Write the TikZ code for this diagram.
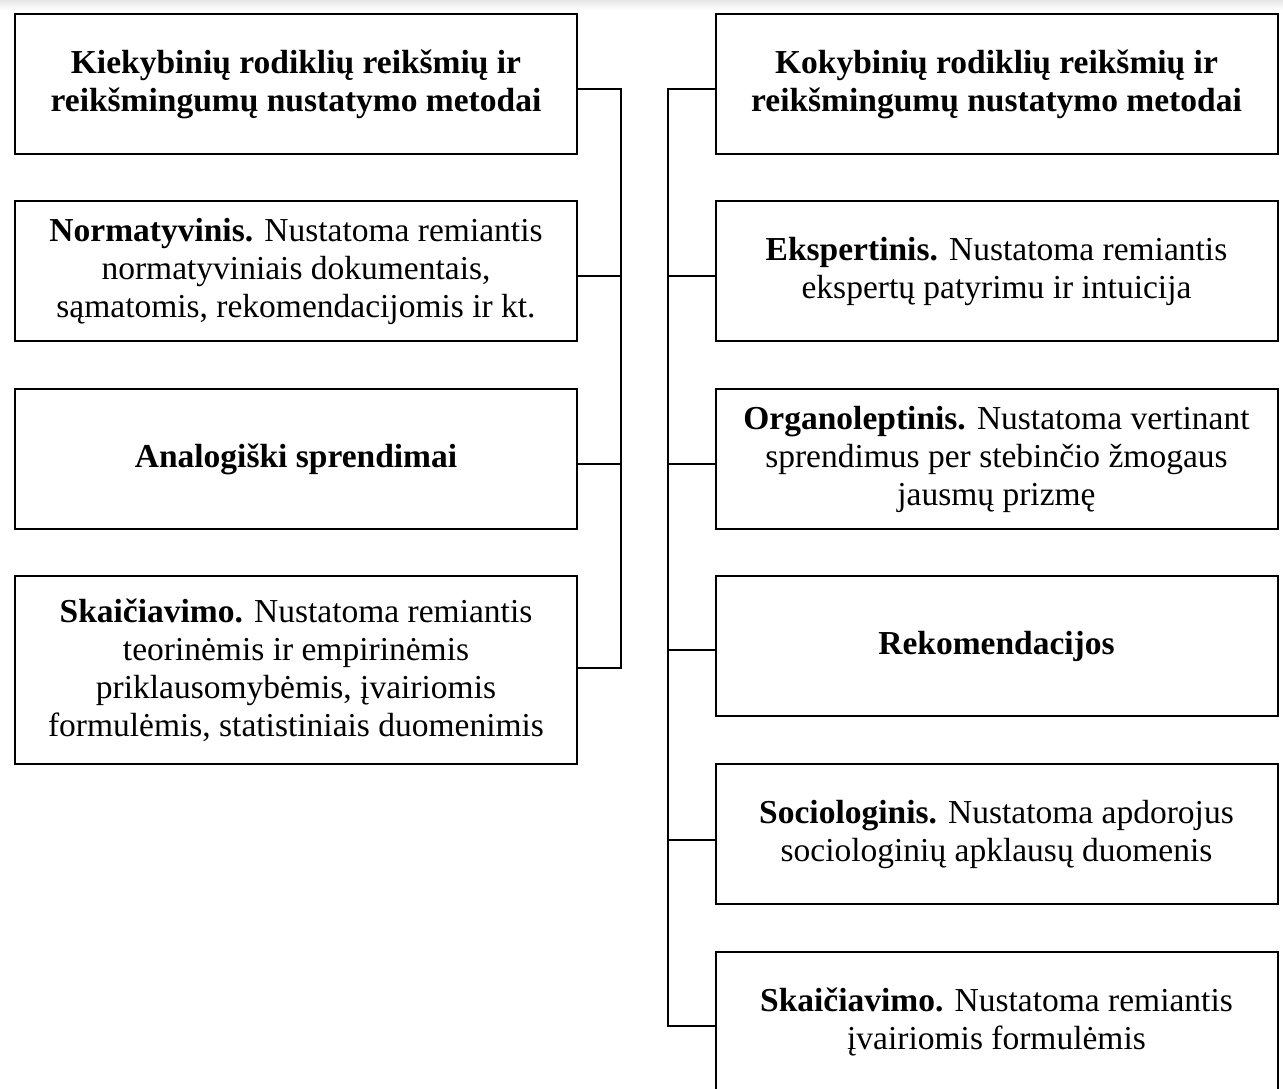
\documentclass[tikz,border=0pt]{standalone}
\usepackage{fontspec}
\setmainfont{Liberation Serif}
\begin{document}
\begin{tikzpicture}[x=1pt,y=-1pt,
  box/.style={draw, line width=2pt, minimum width=562pt, minimum height=140pt, align=center, inner sep=0pt, font=\fontsize{33.5}{38}\selectfont},
  conn/.style={line width=2pt}]
\useasboundingbox (0,0) rectangle (1283,1088);
\shade[top color=black!10, bottom color=white] (0,0) rectangle (1283,10);
% left column
\node[box] (L1) at (296,84) {\textbf{Kiekybinių rodiklių reikšmių ir}\\\textbf{reikšmingumų nustatymo metodai}};
\node[box] (L2) at (296,271) {\textbf{Normatyvinis.} Nustatoma remiantis\\normatyviniais dokumentais,\\sąmatomis, rekomendacijomis ir kt.};
\node[box] (L3) at (296,459) {\textbf{Analogiški sprendimai}};
\node[box, minimum height=188pt] (L4) at (296,670) {\textbf{Skaičiavimo.} Nustatoma remiantis\\teorinėmis ir empirinėmis\\priklausomybėmis, įvairiomis\\formulėmis, statistiniais duomenimis};
% right column
\node[box] (R1) at (996.5,84) {\textbf{Kokybinių rodiklių reikšmių ir}\\\textbf{reikšmingumų nustatymo metodai}};
\node[box] (R2) at (996.5,271) {\textbf{Ekspertinis.} Nustatoma remiantis\\ekspertų patyrimu ir intuicija};
\node[box] (R3) at (996.5,459) {\textbf{Organoleptinis.} Nustatoma vertinant\\sprendimus per stebinčio žmogaus\\jausmų prizmę};
\node[box] (R4) at (996.5,646) {\textbf{Rekomendacijos}};
\node[box] (R5) at (996.5,834) {\textbf{Sociologinis.} Nustatoma apdorojus\\sociologinių apklausų duomenis};
\node[box] (R6) at (996.5,1022) {\textbf{Skaičiavimo.} Nustatoma remiantis\\įvairiomis formulėmis};
% connectors
\coordinate (lv) at (621,0);
\coordinate (rv) at (668,0);
\draw[conn] ([yshift=-5pt]L1.east) -| ([yshift=2pt]L4.east -| lv) -- ([yshift=2pt]L4.east);
\draw[conn] ([yshift=-5pt]L2.east) -- ([yshift=-5pt]L2.east -| lv);
\draw[conn] ([yshift=-5pt]L3.east) -- ([yshift=-5pt]L3.east -| lv);
\draw[conn] ([yshift=-5pt]R1.west) -| ([yshift=-4pt]R6.west -| rv) -- ([yshift=-4pt]R6.west);
\draw[conn] ([yshift=-5pt]R2.west) -- ([yshift=-5pt]R2.west -| rv);
\draw[conn] ([yshift=-5pt]R3.west) -- ([yshift=-5pt]R3.west -| rv);
\draw[conn] ([yshift=-4pt]R4.west) -- ([yshift=-4pt]R4.west -| rv);
\draw[conn] ([yshift=-6pt]R5.west) -- ([yshift=-6pt]R5.west -| rv);
\end{tikzpicture}
\end{document}
